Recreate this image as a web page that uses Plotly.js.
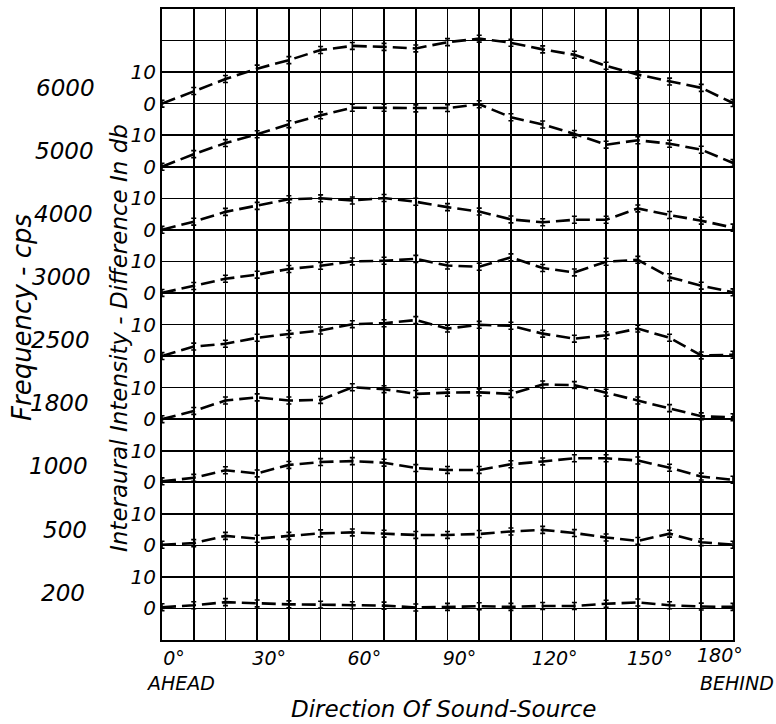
<!DOCTYPE html>
<html>
<head>
<meta charset="utf-8">
<script src="https://cdn.plot.ly/plotly-3.0.1.min.js"></script>
<style>
html,body{margin:0;padding:0;background:#fff;}
#chart{width:776px;height:724px;}
</style>
</head>
<body>
<div id="chart"></div>
<script>
// Direction of sound source (degrees)
const degrees = [0,10,20,30,40,50,60,70,80,90,100,110,120,130,140,150,160,170,180];
const xTickLabels = ['0°','30°','60°','90°','120°','150°','180°'];
const xTickLabelVals = [0,30,60,90,120,150,180];

// Frequency panels, top to bottom
const freqLabels = ['6000','5000','4000','3000','2500','1800','1000','500','200'];

// Interaural intensity difference (db) per panel
const db6000 = [0,4,7.8,11.1,13.8,17,18.3,18,17.5,19.5,20.6,19.3,17.2,15.5,12,9.2,7,5,0.2];
const db5000 = [0,4,7.5,10.3,13.5,16.3,18.7,18.7,18.5,18.6,19.8,15.7,13.4,10.4,7,8.4,7.3,5.4,1.2];
const db4000 = [0,2.6,5.7,7.6,9.7,10,9.3,10.1,8.9,7.2,5.8,3.3,2.4,3.2,3.2,6.8,4.7,2.9,0.7];
const db3000 = [0,2.2,4.5,5.8,7.6,8.6,10,10.2,10.8,8.7,8.3,11.3,7.9,6.5,9.9,10.5,5,2.3,0.2];
const db2500 = [0,3,3.9,5.8,7,8.1,10.1,10.4,11.4,8.7,9.9,9.6,7.1,5.5,6.6,8.7,5.8,0.2,0.4];
const db1800 = [0,2.6,5.9,6.9,5.9,6.1,10.1,9.5,8,8.4,8.5,8,11,10.8,8.4,5.9,3.5,0.9,0.6];
const db1000 = [0.3,1.4,3.8,2.8,5.5,6.4,6.7,6.2,4.5,3.9,3.9,5.7,6.6,7.6,7.6,6.9,4.6,1.8,0.8];
const db500  = [0.2,0.7,3,2.1,3,3.8,4.1,3.7,3.3,3.3,3.6,4.4,4.9,3.9,2.5,1.4,3.7,1,0.2];
const db200  = [0.4,1,2,1.6,1.3,1.2,1,0.9,0.3,0.5,0.7,0.5,0.8,0.8,1.5,1.9,1,0.6,0.5];

const panelSeries = [db6000,db5000,db4000,db3000,db2500,db1800,db1000,db500,db200];

// ---- layout constants ----
const W = 776, H = 724;
const L = 162, R = 733, T = 9, B = 640;
const PW = R - L, PH = B - T;
const panelStep = 20;            // each panel occupies 20 db of the shared axis
const nPanels = freqLabels.length;
const baselineOf = i => 10 + panelStep * (nPanels - 1 - i);
const px2x = px => (px - L) / PW;
const px2y = py => (B - py) / PH;
const FONT = 'DejaVu Sans, Liberation Sans, sans-serif';
const tfont = size => ({family: FONT, size: size, style: 'italic', color: '#000'});

const traces = panelSeries.map((vals, i) => ({
  type: 'scatter',
  mode: 'lines',
  x: degrees,
  y: vals.map(v => v + baselineOf(i)),
  line: {color: '#000', width: 2.6, dash: '14px,6px'},
  error_y: {type: 'constant', value: 1.1, width: 2.5, thickness: 1.6, color: '#000'},
  hoverinfo: 'skip',
  name: freqLabels[i]
}));

// y ticks: "0" at each baseline, "10" ten db above it
const yTickVals = [], yTickText = [];
for (let v = 0; v <= 200; v += 10) {
  yTickVals.push(v);
  let t = '';
  for (let i = 0; i < nPanels; i++) {
    if (v === baselineOf(i)) t = '0';
    if (v === baselineOf(i) + 10) t = '10';
  }
  yTickText.push(t);
}
// x ticks: labelled every 30 degrees, except the last one which is placed as an annotation
const lastDeg = xTickLabelVals[xTickLabelVals.length - 1];
const xTickText = degrees.map(d => {
  const k = xTickLabelVals.indexOf(d);
  return (k >= 0 && d !== lastDeg) ? xTickLabels[k] : '';
});

const annotations = [];
freqLabels.forEach((f, i) => {
  annotations.push({
    text: f, xref: 'paper', yref: 'y',
    x: px2x(97 - 1.2 * i), y: baselineOf(i) + 5,
    xanchor: 'right', yanchor: 'middle', showarrow: false,
    font: tfont(23)
  });
});
annotations.push({
  text: xTickLabels[xTickLabels.length - 1], xref: 'x', yref: 'paper',
  x: lastDeg, y: px2y(655), xanchor: 'right', yanchor: 'middle', xshift: 12,
  showarrow: false, font: tfont(19)
});
annotations.push({
  text: 'Interaural Intensity - Difference In db', textangle: -90,
  xref: 'paper', yref: 'paper', x: px2x(119), y: px2y(338),
  xanchor: 'center', yanchor: 'middle', showarrow: false,
  font: tfont(23)
});
annotations.push({
  text: 'Frequency - cps', textangle: -90,
  xref: 'paper', yref: 'paper', x: px2x(22), y: px2y(318),
  xanchor: 'center', yanchor: 'middle', showarrow: false,
  font: tfont(26)
});
annotations.push({
  text: 'AHEAD', xref: 'paper', yref: 'paper', x: px2x(180), y: px2y(683),
  xanchor: 'center', yanchor: 'middle', showarrow: false,
  font: tfont(19)
});
annotations.push({
  text: 'BEHIND', xref: 'paper', yref: 'paper', x: px2x(737), y: px2y(683),
  xanchor: 'center', yanchor: 'middle', showarrow: false,
  font: tfont(19)
});
annotations.push({
  text: 'Direction Of Sound-Source', xref: 'paper', yref: 'paper', x: px2x(443), y: px2y(709),
  xanchor: 'center', yanchor: 'middle', showarrow: false,
  font: tfont(23)
});

const layout = {
  width: W, height: H,
  margin: {l: L, r: W - R, t: T, b: H - B, pad: 0},
  paper_bgcolor: '#fff', plot_bgcolor: '#fff',
  showlegend: false,
  xaxis: {
    range: [0, 180], tickmode: 'array', tickvals: degrees, ticktext: xTickText,
    showgrid: true, gridcolor: '#000', gridwidth: 1.6, zeroline: false,
    showline: true, mirror: true, linecolor: '#000', linewidth: 2,
    ticks: '', ticklabelshift: 12, ticklabelstandoff: 0,
    tickfont: tfont(19),
    fixedrange: true
  },
  yaxis: {
    range: [0, 200], tickmode: 'array', tickvals: yTickVals, ticktext: yTickText,
    showgrid: true, gridcolor: '#000', gridwidth: 1.6, zeroline: false,
    showline: true, mirror: true, linecolor: '#000', linewidth: 2,
    ticks: '', ticklabelstandoff: 0,
    tickfont: tfont(20),
    fixedrange: true
  },
  annotations: annotations
};

Plotly.newPlot('chart', traces, layout, {displayModeBar: false, staticPlot: true});
</script>
</body>
</html>
